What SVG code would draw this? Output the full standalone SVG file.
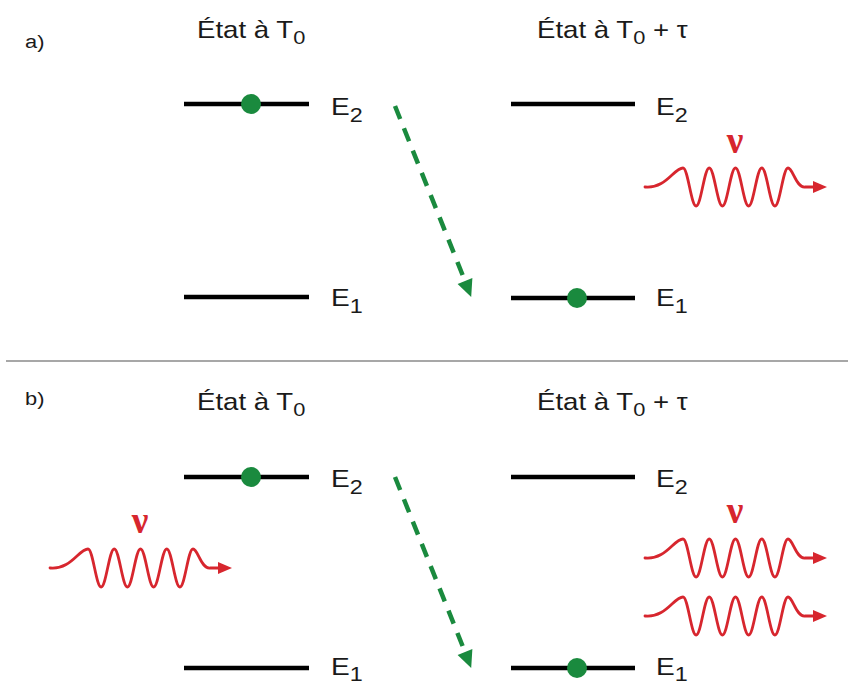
<svg xmlns="http://www.w3.org/2000/svg" xmlns:xlink="http://www.w3.org/1999/xlink" width="848" height="684" viewBox="0 0 848 684">
<style>
.t{font-family:"Liberation Sans",Arial,sans-serif;fill:#1a1a1a}
.title{font-size:24px}
.tsub{font-size:19px}
.lab{font-size:24px}
.sub{font-size:20px}
.part{font-size:19px}
.lvl{stroke:#000;stroke-width:4.5;fill:none}
.dot{fill:#1a8a3e}
.wave{fill:none;stroke:#d7262e;stroke-width:2.8;stroke-linecap:round}
.whead{fill:#d7262e}
.nu{font-family:"Liberation Serif","Times New Roman",serif;font-size:37px;font-weight:bold;fill:#d7262e}
.arr{stroke:#1a8a3e;stroke-width:4.5;stroke-dasharray:14 10;fill:none}
.ahead{fill:#1a8a3e}
</style>
<defs>
<g id="wave">
<path class="wave" d="M0,0 C21,2 29,-19 38,-19 C43,-19 46.1,19 51.1,19 C56.1,19 59.2,-19 64.25,-19 C69.25,-19 72.4,19 77.4,19 C82.4,19 85.5,-19 90.5,-19 C95.5,-19 98.6,19 103.6,19 C108.6,19 111.75,-19 116.75,-19 C121.75,-19 124.9,19 129.9,19 C134.9,19 138,-19 143,-19 C148,-19 151,1 160,0 L170,0"/>
<polygon class="whead" points="168,-6 182,0 168,6"/>
</g>
</defs>

<line x1="6" y1="361" x2="848" y2="361" stroke="#8a8a8a" stroke-width="1.5"/>

<g id="part-a">
<text class="t part" transform="translate(25,48) scale(1.15,1)">a)</text>
<g id="a-title-left"><text class="t title" transform="translate(197,38) scale(1.15,1)">État à T<tspan class="tsub" dy="6">0</tspan></text></g>
<g id="a-title-right"><text class="t title" transform="translate(537,38) scale(1.15,1)">État à T<tspan class="tsub" dy="6">0</tspan><tspan dy="-6"> + τ</tspan></text></g>

<g id="a-left-E2"><line class="lvl" x1="184" y1="104" x2="309" y2="104"/><circle class="dot" cx="251" cy="104" r="10"/><text class="t lab" transform="translate(331,115) scale(1.17,1)">E<tspan class="sub" dy="7">2</tspan></text></g>
<g id="a-left-E1"><line class="lvl" x1="184" y1="297" x2="309" y2="297"/><text class="t lab" transform="translate(331,306) scale(1.17,1)">E<tspan class="sub" dy="7">1</tspan></text></g>
<g id="a-right-E2"><line class="lvl" x1="511" y1="104" x2="635" y2="104"/><text class="t lab" transform="translate(656,115) scale(1.17,1)">E<tspan class="sub" dy="7">2</tspan></text></g>
<g id="a-right-E1"><line class="lvl" x1="511" y1="298" x2="635" y2="298"/><circle class="dot" cx="577" cy="298" r="10"/><text class="t lab" transform="translate(656,306) scale(1.17,1)">E<tspan class="sub" dy="7">1</tspan></text></g>
<g id="a-photon"><use xlink:href="#wave" x="645" y="187"/><text class="nu" x="735" y="153" text-anchor="middle">ν</text></g>
</g>

<g id="part-b">
<text class="t part" transform="translate(25,405) scale(1.15,1)">b)</text>
<g id="b-title-left"><text class="t title" transform="translate(197,410) scale(1.15,1)">État à T<tspan class="tsub" dy="6">0</tspan></text></g>
<g id="b-title-right"><text class="t title" transform="translate(537,410) scale(1.15,1)">État à T<tspan class="tsub" dy="6">0</tspan><tspan dy="-6"> + τ</tspan></text></g>

<g id="b-left-E2"><line class="lvl" x1="184" y1="477" x2="309" y2="477"/><circle class="dot" cx="251" cy="477" r="10"/><text class="t lab" transform="translate(331,487) scale(1.17,1)">E<tspan class="sub" dy="7">2</tspan></text></g>
<g id="b-left-E1"><line class="lvl" x1="184" y1="668" x2="309" y2="668"/><text class="t lab" transform="translate(331,675) scale(1.17,1)">E<tspan class="sub" dy="6">1</tspan></text></g>
<g id="b-right-E2"><line class="lvl" x1="511" y1="477" x2="635" y2="477"/><text class="t lab" transform="translate(656,487) scale(1.17,1)">E<tspan class="sub" dy="7">2</tspan></text></g>
<g id="b-right-E1"><line class="lvl" x1="511" y1="668" x2="635" y2="668"/><circle class="dot" cx="577" cy="668" r="10"/><text class="t lab" transform="translate(656,675) scale(1.17,1)">E<tspan class="sub" dy="6">1</tspan></text></g>
<g id="b-photon-in"><use xlink:href="#wave" x="50" y="568"/><text class="nu" x="140" y="533" text-anchor="middle">ν</text></g>
<g id="b-photons-out"><use xlink:href="#wave" x="645" y="558"/><use xlink:href="#wave" x="645" y="616"/><text class="nu" x="735" y="523" text-anchor="middle">ν</text></g>
</g>

<g id="connectors">
<line class="arr" x1="395" y1="106" x2="465" y2="281"/>
<polygon class="ahead" points="457.6,284 472.4,278 471.2,297"/>
<line class="arr" x1="395" y1="477" x2="465" y2="652"/>
<polygon class="ahead" points="457.6,655 472.4,649 471.2,668"/>
</g>
</svg>
